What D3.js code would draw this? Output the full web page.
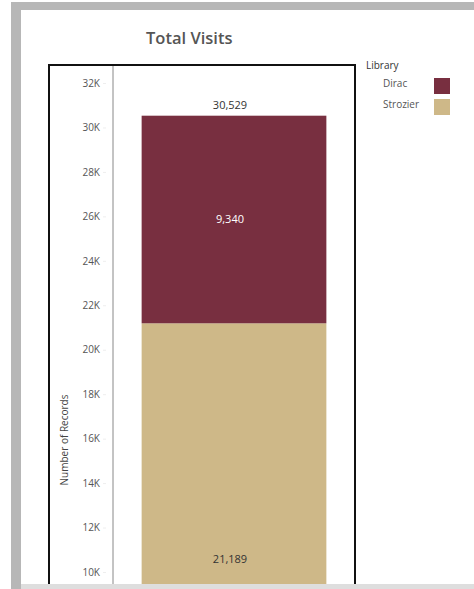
<!DOCTYPE html>
<html lang="en">
<head>
    <meta charset="UTF-8">
    <title>Total Visits</title>
    <style>
        body { margin: 0; background: #fff; }
        text { font-family: "Open Sans", sans-serif; }
    </style>
</head>
<body>
<script src="https://d3js.org/d3.v7.min.js"></script>
<script>
    // Data
    const libraries = ["Dirac", "Strozier"];
    const visits = [9340, 21189];
    const libColors = ["#782F40", "#CEB888"];
    const yTicks = [10000, 12000, 14000, 16000, 18000, 20000, 22000, 24000, 26000, 28000, 30000, 32000];

    const W = 474, H = 589;

    const svg = d3.select("body")
        .append("svg")
        .attr("width", W)
        .attr("height", H);

    // dashboard frame
    svg.append("rect")
        .attr("x", 11).attr("y", 2)
        .attr("width", W - 11).attr("height", H - 2)
        .attr("fill", "#b7b7b7");
    svg.append("rect")
        .attr("x", 21).attr("y", 10)
        .attr("width", W - 21).attr("height", H - 10)
        .attr("fill", "#fff");

    // Scales
    const y = d3.scaleLinear()
        .domain([10000, 32000])
        .range([572, 83]);
    const x = d3.scaleBand()
        .domain(["Total"])
        .range([113, 355])
        .paddingInner(0)
        .paddingOuter(0.155);

    // stack: Strozier at bottom, Dirac on top
    const order = [1, 0];
    let base = 0;
    const segs = order.map(i => {
        const s = { lib: libraries[i], value: visits[i], color: libColors[i], y0: base, y1: base + visits[i] };
        base += visits[i];
        return s;
    });
    const total = base;

    const fmt = d3.format(",");

    // bars
    svg.selectAll(".seg")
        .data(segs)
        .enter()
        .append("rect")
        .attr("class", "seg")
        .attr("x", x("Total"))
        .attr("width", x.bandwidth())
        .attr("y", d => y(d.y1))
        .attr("height", d => y(d.y0) - y(d.y1))
        .attr("fill", d => d.color);

    // segment labels
    svg.selectAll(".seglabel")
        .data(segs)
        .enter()
        .append("text")
        .attr("class", "seglabel")
        .attr("x", x("Total") + x.bandwidth() / 2 - 4)
        .attr("y", d => (y(d.y0) + y(d.y1)) / 2 + 4)
        .attr("text-anchor", "middle")
        .attr("font-size", 11)
        .attr("fill", d => d.lib === "Dirac" ? "#fff" : "#333")
        .text(d => fmt(d.value));

    // total label
    svg.append("text")
        .attr("x", x("Total") + x.bandwidth() / 2 - 4)
        .attr("y", y(total) - 7)
        .attr("text-anchor", "middle")
        .attr("font-size", 11)
        .attr("fill", "#333")
        .text(fmt(total));

    // Y axis
    const yAxis = svg.append("g")
        .attr("transform", "translate(106,0)")
        .call(d3.axisLeft(y)
            .tickValues(yTicks)
            .tickFormat(d => d / 1000 + "K")
            .tickSize(3)
            .tickPadding(3));
    yAxis.select(".domain").remove();
    yAxis.selectAll(".tick line").attr("stroke", "#eee");
    yAxis.selectAll(".tick text")
        .attr("font-family", "Open Sans, sans-serif")
        .attr("font-size", 10)
        .attr("fill", "#555");

    // axis title
    svg.append("text")
        .attr("transform", "translate(68,440) rotate(-90)")
        .attr("text-anchor", "middle")
        .attr("font-size", 10)
        .attr("fill", "#444")
        .text("Number of Records");

    // pane borders
    svg.append("line")
        .attr("x1", 113).attr("x2", 113)
        .attr("y1", 66).attr("y2", H)
        .attr("stroke", "#888").attr("stroke-width", 1);
    svg.append("rect")
        .attr("x", 49).attr("y", 65)
        .attr("width", 306).attr("height", 600)
        .attr("fill", "none")
        .attr("stroke", "#111")
        .attr("stroke-width", 2);

    // bottom band
    svg.append("rect")
        .attr("x", 21).attr("y", 584)
        .attr("width", W - 21).attr("height", 5)
        .attr("fill", "#dedede");

    // title
    svg.append("text")
        .attr("x", 146).attr("y", 44)
        .attr("font-size", 16.5)
        .attr("font-weight", 600)
        .attr("fill", "#555")
        .text("Total Visits");

    // legend
    svg.append("text")
        .attr("x", 366).attr("y", 69)
        .attr("font-size", 10)
        .attr("fill", "#333")
        .text("Library");
    const leg = svg.selectAll(".leg")
        .data(libraries)
        .enter()
        .append("g")
        .attr("class", "leg")
        .attr("transform", (d, i) => "translate(0," + (i * 21) + ")");
    leg.append("text")
        .attr("x", 383).attr("y", 87)
        .attr("font-size", 10)
        .attr("fill", "#555")
        .text(d => d);
    leg.append("rect")
        .attr("x", 434).attr("y", 78)
        .attr("width", 16).attr("height", 16)
        .attr("fill", (d, i) => libColors[i]);
</script>
</body>
</html>
